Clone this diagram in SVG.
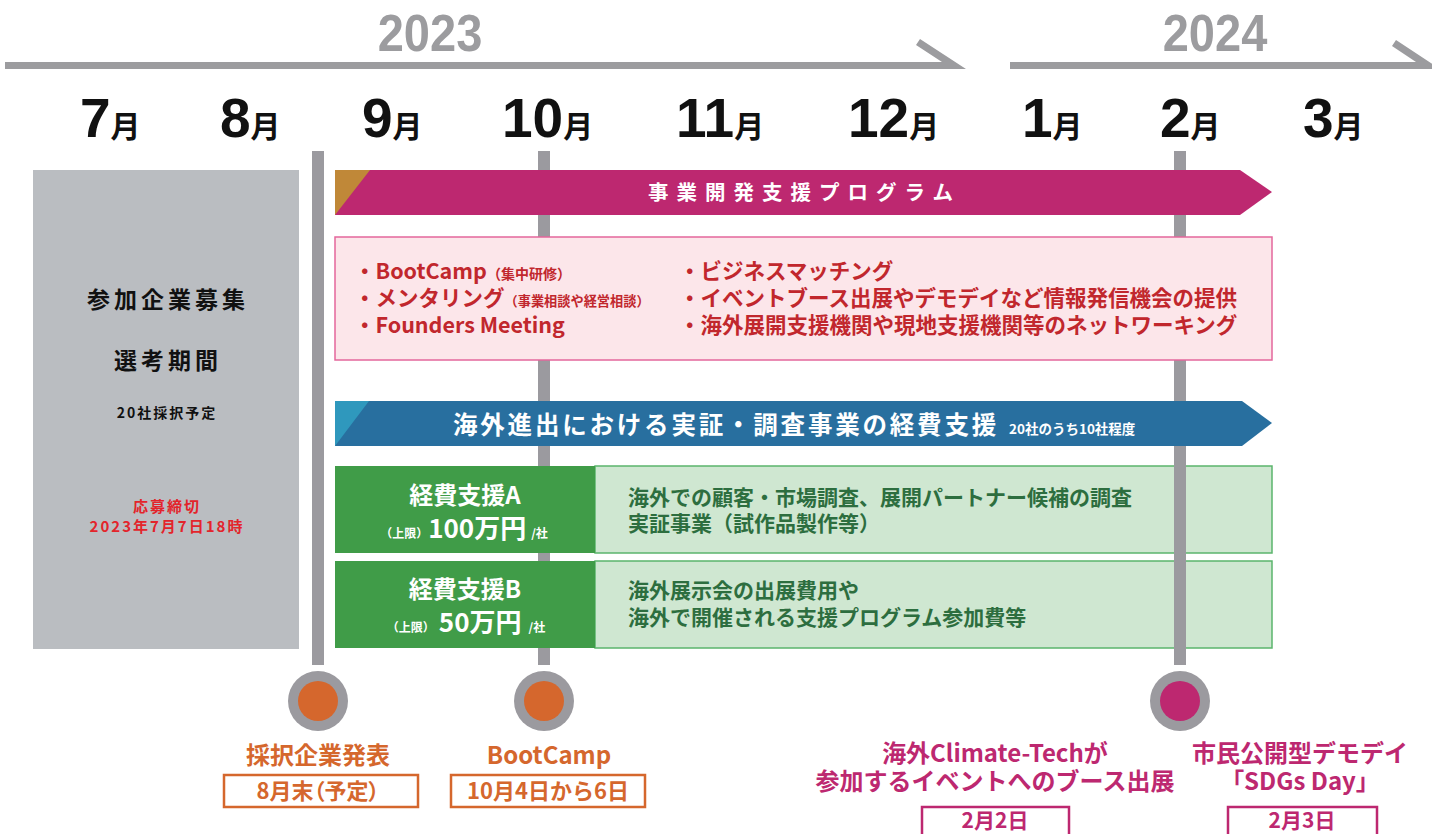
<svg xmlns="http://www.w3.org/2000/svg" width="1432" height="834" viewBox="0 0 1432 834">
<style>
.jp{font-family:"Noto Sans CJK JP","Noto Sans",sans-serif;font-weight:700}
.yr{font-family:"Liberation Sans",Arial,sans-serif;font-weight:700;font-size:48px;fill:#9c9c9f;text-anchor:middle}
.mo{font-family:"Liberation Sans",Arial,sans-serif;font-weight:700;font-size:55px;fill:#111}
.mk{font-family:"Noto Sans CJK JP",sans-serif;font-weight:700;font-size:30px}
.vline{fill:#9b9a9f}
.pinkt{fill:#c1272d;font-size:21.5px}
.greent{fill:#2d6e3f;font-size:21px}
.wt{fill:#fff}
.or{fill:#d5672d}
.mg{fill:#bd2870}
.mid{text-anchor:middle}
.palt{font-feature-settings:"palt"}
</style>

<g id="timeline">
  <polygon points="5,62 942,62 916,45 920,39 966,69 5,69" fill="#9c9c9f"/>
  <polygon points="1010,62 1416,62 1392,46 1396,40 1440,69 1010,69" fill="#9c9c9f"/>
  <text class="yr" transform="translate(430,51) scale(0.98,1.08)">2023</text>
  <text class="yr" transform="translate(1215,51) scale(0.98,1.08)">2024</text>
</g>

<g id="months">
  <text class="mo" x="80" y="137">7<tspan class="mk">月</tspan></text>
  <text class="mo" x="220" y="137">8<tspan class="mk">月</tspan></text>
  <text class="mo" x="362" y="137">9<tspan class="mk">月</tspan></text>
  <text class="mo" x="502" y="137">10<tspan class="mk">月</tspan></text>
  <text class="mo" x="676" y="137">11<tspan class="mk">月</tspan></text>
  <text class="mo" x="848" y="137">12<tspan class="mk">月</tspan></text>
  <text class="mo" x="1022" y="137">1<tspan class="mk">月</tspan></text>
  <text class="mo" x="1160" y="137">2<tspan class="mk">月</tspan></text>
  <text class="mo" x="1303" y="137">3<tspan class="mk">月</tspan></text>
</g>

<g id="recruit">
  <rect x="33" y="170" width="266" height="479" fill="#babdc1"/>
  <text class="jp mid" x="168" y="308" font-size="23" letter-spacing="4" fill="#111">参加企業募集</text>
  <text class="jp mid" x="168" y="369" font-size="23" letter-spacing="4" fill="#111">選考期間</text>
  <text class="jp mid" x="167" y="418" font-size="14" letter-spacing="2" fill="#111">20社採択予定</text>
  <text class="jp mid" x="167" y="512" font-size="15" letter-spacing="2" fill="#e3242b">応募締切</text>
  <text class="jp mid" x="167" y="532" font-size="15" letter-spacing="2" fill="#e3242b">2023年7月7日18時</text>
</g>

<g id="expense-rows-bg">
  <rect x="595" y="466" width="677" height="87" fill="#cfe7d1" stroke="#5bb56c" stroke-width="1.5"/>
  <rect x="595" y="561" width="677" height="87" fill="#cfe7d1" stroke="#5bb56c" stroke-width="1.5"/>
</g>

<g id="connectors">
  <rect class="vline" x="312" y="151" width="12" height="514"/>
  <rect class="vline" x="538" y="151" width="12" height="514"/>
  <rect class="vline" x="1174" y="151" width="12" height="514"/>
</g>

<g id="program-banner">
  <polygon points="335,170 1240,170 1272,192 1240,215 335,215" fill="#bd2870"/>
  <polygon points="335,170 370,170 335,215" fill="#c08838"/>
  <text class="jp wt" x="648" y="200" font-size="20.5" letter-spacing="8">事業開発支援プログラム</text>
</g>

<g id="program-content">
  <rect x="335" y="237" width="937" height="123" fill="#fce6ea" stroke="#e4679c" stroke-width="1.5"/>
  <text class="jp pinkt" x="354" y="279">・BootCamp<tspan font-size="14">（集中研修）</tspan></text>
  <text class="jp pinkt" x="354" y="306">・メンタリング<tspan font-size="13.2">（事業相談や経営相談）</tspan></text>
  <text class="jp pinkt" x="354" y="333">・Founders Meeting</text>
  <text class="jp pinkt" x="679" y="279">・ビジネスマッチング</text>
  <text class="jp pinkt" x="679" y="306">・イベントブース出展やデモデイなど情報発信機会の提供</text>
  <text class="jp pinkt" x="679" y="333">・海外展開支援機関や現地支援機関等のネットワーキング</text>
</g>

<g id="expense-banner">
  <polygon points="335,401 1242,401 1272,423 1242,446 335,446" fill="#286f9f"/>
  <polygon points="335,401 369,401 335,446" fill="#2f98bd"/>
  <text class="jp wt" x="453" y="434" font-size="24.5" letter-spacing="2.8">海外進出における実証・調査事業の経費支援<tspan font-size="13.5" letter-spacing="0" dx="10">20社のうち10社程度</tspan></text>
</g>

<g id="expense-a">
  <rect x="335" y="466" width="260" height="87" fill="#409c48"/>
  <text class="jp wt mid" x="465" y="504" font-size="24">経費支援A</text>
  <text class="jp wt mid" x="464" y="538" font-size="12">（上限）<tspan font-size="26">100万円</tspan><tspan dx="5">/社</tspan></text>
  <text class="jp greent" x="628" y="505">海外での顧客・市場調査、展開パートナー候補の調査</text>
  <text class="jp greent" x="628" y="531">実証事業（試作品製作等）</text>
</g>

<g id="expense-b">
  <rect x="335" y="561" width="260" height="87" fill="#409c48"/>
  <text class="jp wt mid" x="465" y="598" font-size="24">経費支援B</text>
  <text class="jp wt mid" x="466" y="632" font-size="12">（上限）<tspan font-size="26" dx="4">50万円</tspan><tspan dx="7">/社</tspan></text>
  <text class="jp greent" x="628" y="598">海外展示会の出展費用や</text>
  <text class="jp greent" x="628" y="625">海外で開催される支援プログラム参加費等</text>
</g>

<g id="milestone-announce">
  <circle cx="318" cy="701" r="30" fill="#9b9a9f"/>
  <circle cx="318" cy="701" r="20" fill="#d5672d"/>
  <text class="jp or mid" x="318" y="764" font-size="24">採択企業発表</text>
  <rect x="224" y="775" width="194" height="32" fill="none" stroke="#d5672d" stroke-width="2.5"/>
  <text class="jp or mid palt" x="318" y="799" font-size="22">8月末（予定）</text>
</g>

<g id="milestone-bootcamp">
  <circle cx="544" cy="701" r="30" fill="#9b9a9f"/>
  <circle cx="544" cy="701" r="20" fill="#d5672d"/>
  <text class="jp or mid" x="549" y="764" font-size="24">BootCamp</text>
  <rect x="451" y="775" width="194" height="32" fill="none" stroke="#d5672d" stroke-width="2.5"/>
  <text class="jp or mid" x="548" y="799" font-size="22">10月4日から6日</text>
</g>

<g id="milestone-booth">
  <text class="jp mg mid" x="995" y="762" font-size="24">海外Climate-Techが</text>
  <text class="jp mg mid" x="995" y="790" font-size="24">参加するイベントへのブース出展</text>
  <rect x="922" y="807" width="147" height="40" fill="none" stroke="#bd2870" stroke-width="2.5"/>
  <text class="jp mg mid" x="995" y="828" font-size="21">2月2日</text>
</g>

<g id="milestone-demoday">
  <circle cx="1180" cy="701" r="30" fill="#9b9a9f"/>
  <circle cx="1180" cy="701" r="20" fill="#bd2870"/>
  <text class="jp mg mid" x="1300" y="762" font-size="24">市民公開型デモデイ</text>
  <text class="jp mg mid" x="1300" y="790" font-size="24">「SDGs Day」</text>
  <rect x="1228" y="807" width="149" height="40" fill="none" stroke="#bd2870" stroke-width="2.5"/>
  <text class="jp mg mid" x="1302" y="828" font-size="21">2月3日</text>
</g>
</svg>
